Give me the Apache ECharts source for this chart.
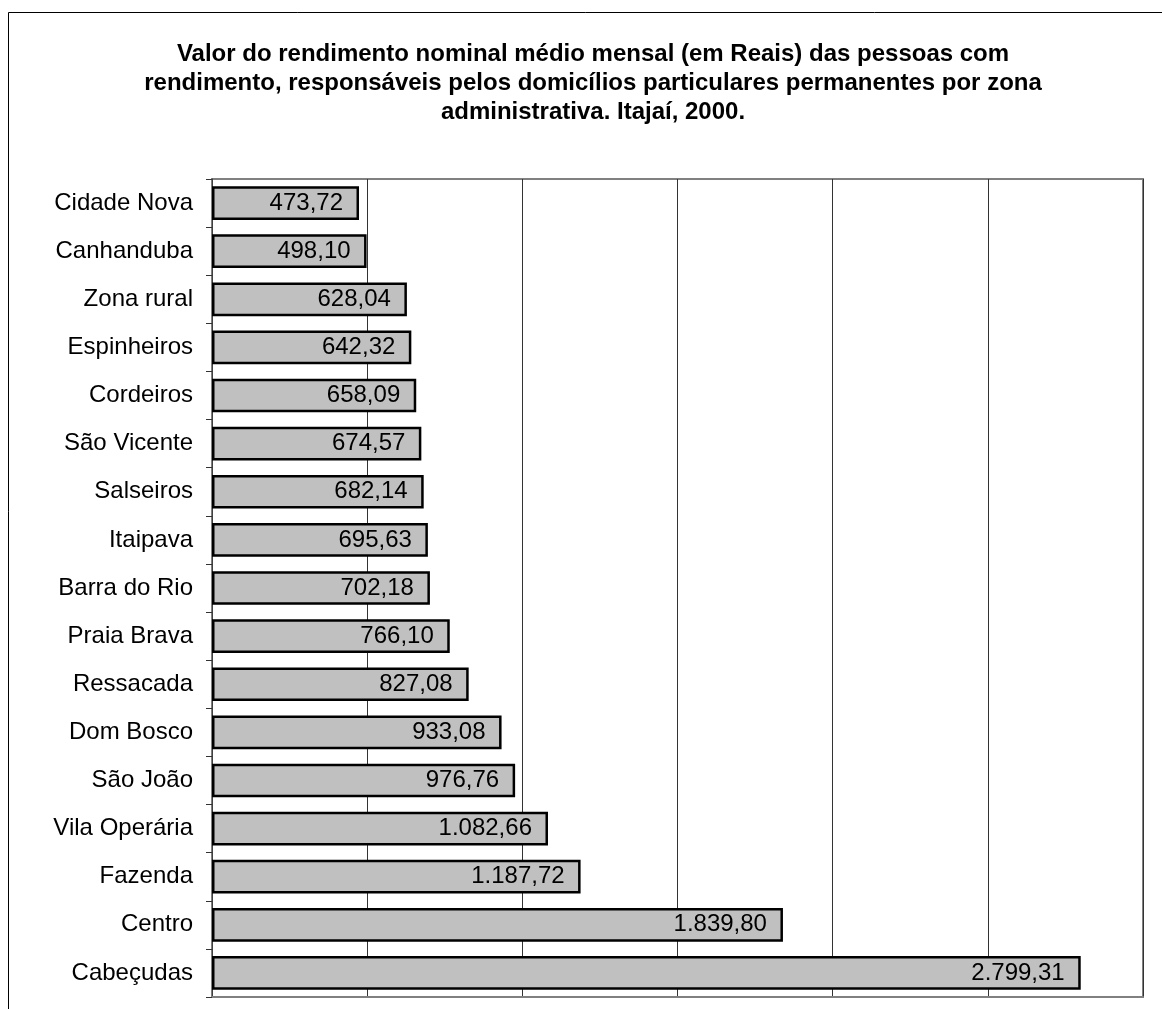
<!DOCTYPE html>
<html>
<head>
<meta charset="utf-8">
<script src="https://cdn.jsdelivr.net/npm/echarts@6/dist/echarts.min.js"></script>
<style>
  html, body { margin: 0; padding: 0; background: #fff; }
  #chart { width: 1162px; height: 1009px; }
</style>
</head>
<body>
<div id="chart"></div>
<script>
// zonas administrativas, top to bottom
var zonas = ['Cidade Nova', 'Canhanduba', 'Zona rural', 'Espinheiros', 'Cordeiros', 'São Vicente',
  'Salseiros', 'Itaipava', 'Barra do Rio', 'Praia Brava', 'Ressacada', 'Dom Bosco', 'São João',
  'Vila Operária', 'Fazenda', 'Centro', 'Cabeçudas'];
var rendimento = [473.72, 498.10, 628.04, 642.32, 658.09, 674.57, 682.14, 695.63, 702.18, 766.10,
  827.08, 933.08, 976.76, 1082.66, 1187.72, 1839.80, 2799.31];

var FONT = "'Liberation Sans', Arial, sans-serif";

// 1.234,56 style
const fmtBR = v => {
  var parts = v.toFixed(2).split('.');
  var inteiro = parts[0].replace(/\B(?=(\d{3})+(?!\d))/g, '.');
  return inteiro + ',' + parts[1];
};

var chart = echarts.init(document.getElementById('chart'));

chart.setOption({
  backgroundColor: '#fff',
  animation: false,
  title: {
    text: 'Valor do rendimento nominal médio mensal (em Reais) das pessoas com\n' +
      'rendimento, responsáveis pelos domicílios particulares permanentes por zona\n' +
      'administrativa. Itajaí, 2000.',
    left: 588,
    top: 35,
    textAlign: 'center',
    textStyle: {
      fontFamily: FONT,
      fontSize: 24,
      fontWeight: 'bold',
      color: '#000',
      lineHeight: 29
    }
  },
  graphic: [{
    // outer frame, cut by the page edge on the right and bottom
    type: 'rect',
    shape: { x: 8.5, y: 12.5, width: 2000, height: 2000 },
    style: { fill: 'none', stroke: '#000', lineWidth: 1 },
    silent: true,
    z: -1
  }],
  grid: {
    left: 212,
    right: 19,
    top: 179,
    bottom: 12,
    show: true,
    borderColor: '#808080',
    borderWidth: 2,
    backgroundColor: '#fff'
  },
  xAxis: {
    type: 'value',
    min: 0,
    max: 3000,
    interval: 500,
    axisLabel: { show: false },
    axisTick: { show: false },
    axisLine: { show: true, lineStyle: { color: '#808080', width: 2 } },
    splitLine: { show: true, lineStyle: { color: '#333', width: 1 } }
  },
  yAxis: {
    type: 'category',
    data: zonas,
    inverse: true,
    axisLine: { show: true, lineStyle: { color: '#404040', width: 1 } },
    axisTick: { show: true, length: 6, inside: false, lineStyle: { color: '#333' } },
    axisLabel: {
      margin: 19,
      fontFamily: FONT,
      fontSize: 24,
      color: '#000'
    }
  },
  series: [{
    type: 'bar',
    data: rendimento,
    barCategoryGap: '30%',
    itemStyle: {
      color: '#c0c0c0',
      borderColor: '#000',
      borderWidth: 2.5
    },
    label: {
      show: true,
      position: 'insideRight',
      distance: 16,
      fontFamily: FONT,
      fontSize: 24,
      color: '#000',
      formatter: p => fmtBR(p.value)
    }
  }]
});
</script>
</body>
</html>
